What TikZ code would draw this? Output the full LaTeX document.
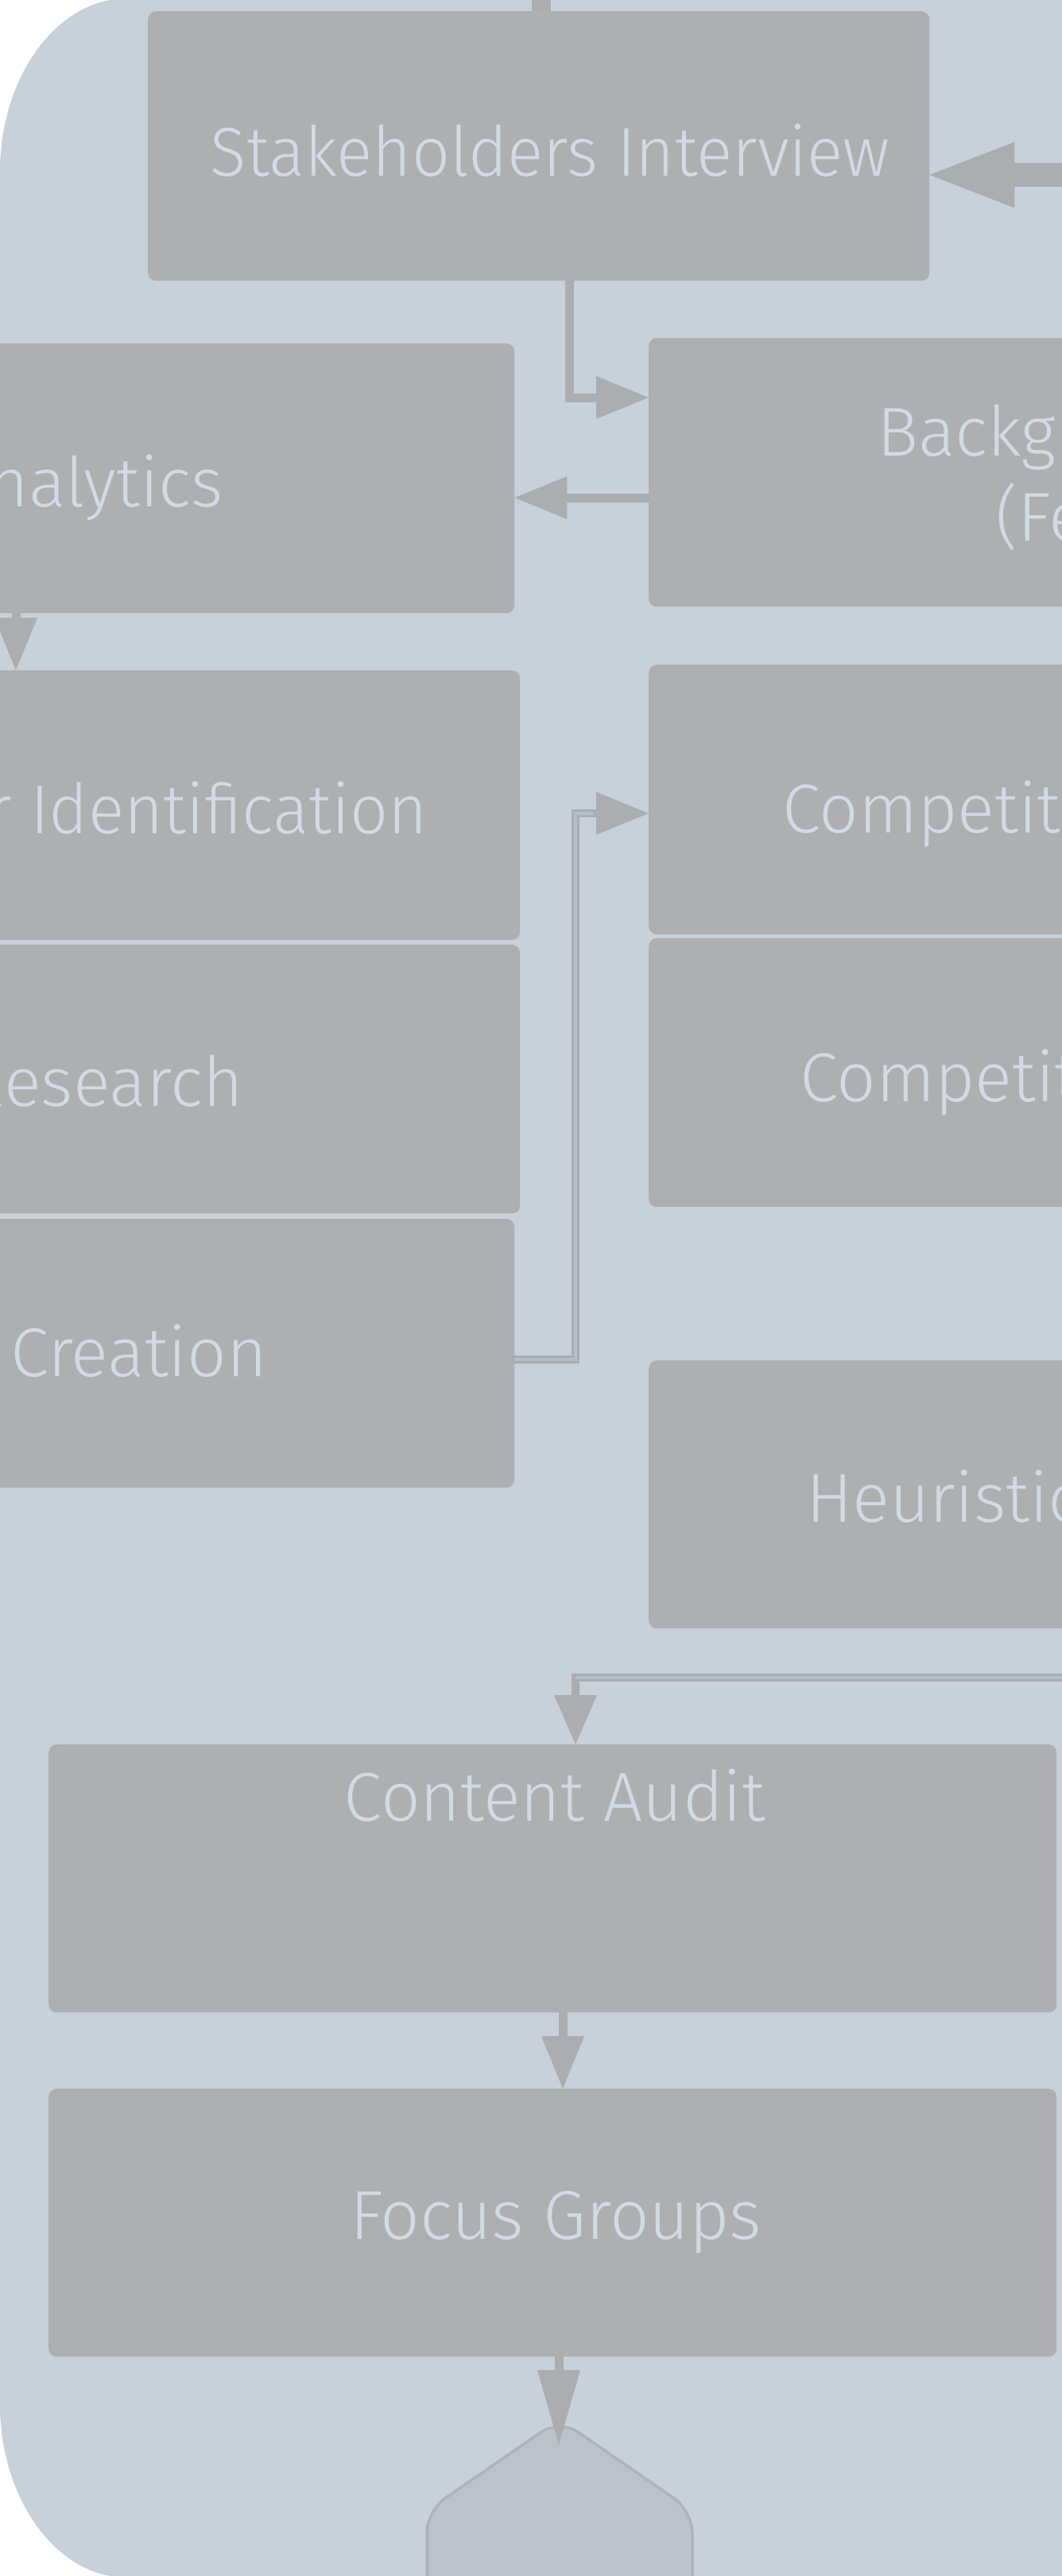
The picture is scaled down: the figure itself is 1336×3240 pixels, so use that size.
\documentclass[tikz,border=0pt]{standalone}
\usepackage{fontspec}
\newfontfamily\boxfont{Fira Sans}[UprightFont={* Light}]
\usetikzlibrary{arrows.meta,calc}
\definecolor{bgblue}{HTML}{C8D0DA}
\definecolor{boxgray}{HTML}{AEAFB1}
\definecolor{txtblue}{HTML}{D2DAE4}
\definecolor{conngray}{HTML}{ABADB0}
\definecolor{stripe}{HTML}{B8BEC5}
\definecolor{pentfill}{HTML}{BBC2CA}
\definecolor{pentline}{HTML}{AEB3B9}
\begin{document}
\begin{tikzpicture}[x=1pt,y=-1pt,
  box/.style={fill=boxgray, rounded corners=10pt, inner sep=0pt, anchor=north west},
  txt/.style={text=txtblue, inner sep=0pt, font=\boxfont\fontsize{87}{104}\selectfont},
  conn/.style={draw=conngray, line width=11pt, -{Triangle[length=66pt,width=54pt,line width=0pt]}},
  lconn/.style={draw=conngray, line width=10pt, -{Triangle[length=62pt,width=54pt,line width=0pt]}},
  stripeline/.style={draw=stripe, line width=4pt}
]
\useasboundingbox (0,0) rectangle (1336,3240);
\clip (0,0) rectangle (1336,3240);
\fill[white] (0,0) rectangle (1336,3240);
\fill[bgblue] (1700,-2) -- (160,-2) .. controls (72,-2) and (0,96) .. (0,216)
  -- (0,3024) .. controls (0,3144) and (72,3242) .. (160,3242) -- (1700,3242) -- cycle;

% pentagon (end shape)
\draw[fill=pentfill, draw=pentline, line width=3.5pt, rounded corners=28pt]
  (537,3320) -- (537,3158) -- (704,3043) -- (871,3158) -- (871,3320);
\coordinate (pt) at (703,3075);

% boxes
\node[box, minimum width=983pt,  minimum height=339pt] (si)  at (186,14) {};
\node[box, minimum width=1000pt, minimum height=338pt] (bg)  at (816,425) {};
\node[box, minimum width=1000pt, minimum height=339pt] (an)  at (-353,432) {};
\node[box, minimum width=1000pt, minimum height=339pt] (ui)  at (-346,843) {};
\node[box, minimum width=1000pt, minimum height=338pt] (re)  at (-346,1188) {};
\node[box, minimum width=1000pt, minimum height=338pt] (cr)  at (-353,1533) {};
\node[box, minimum width=1000pt, minimum height=339pt] (co1) at (816,836) {};
\node[box, minimum width=1000pt, minimum height=338pt] (co2) at (816,1180) {};
\node[box, minimum width=1000pt, minimum height=337pt] (he)  at (816,1711) {};
\node[box, minimum width=1268pt, minimum height=337pt] (ca)  at (61,2194) {};
\node[box, minimum width=1268pt, minimum height=337pt] (fg)  at (61,2627) {};

% connectors
\coordinate (topin) at (681,-40);
\draw[conngray, line width=24pt] (topin) -- (topin |- si.north);
\coordinate (rin) at (1400,220);
\draw[conngray, line width=30pt, -{Triangle[length=107pt,width=83pt,line width=0pt]}] (rin) -- (rin -| si.east);
\coordinate (j1) at (716,500);
\draw[conn] (j1 |- si.south) -- (j1) -- (j1 -| bg.west);
\coordinate (j2) at (0,626);
\draw[conn] (j2 -| bg.west) -- (j2 -| an.east);
\coordinate (j3) at (20,0);
\draw[conn] (j3 |- an.south) -- (j3 |- ui.north);
\coordinate (j4) at (724,1710);
\coordinate (j5) at (724,1023);
\draw[lconn, {Triangle[length=10pt,width=8pt,line width=0pt]}-{Triangle[length=66pt,width=54pt,line width=0pt]}]
  ($(j4 -| cr.east)+(-10,0)$) -- (j4) -- (j5) -- (j5 -| co1.west);
\draw[stripeline] (j4 -| cr.east) -- (j4) -- (j5) -- ($(j5 -| co1.west)+(-70,0)$);
\coordinate (j6) at (1400,2110);
\coordinate (j7) at (724,2110);
\draw[lconn] (j6) -- (j7) -- (j7 |- ca.north);
\draw[stripeline] (j6) -- (j7);
\coordinate (j8) at (708,0);
\draw[conn] (j8 |- ca.south) -- (j8 |- fg.north);
\draw[conn, -{Triangle[length=94pt,width=54pt,line width=0pt]}] (pt |- fg.south) -- (pt);

% texts
\node[txt, anchor=base] (si-t) at (692,221) {\scalebox{0.967}[1]{Stakeholders Interview}};
\node[txt, anchor=base west] (bg-t1) at (1103,573) {Background};
\node[txt, anchor=base west] (bg-t2) at (1252,680) {(Features)};
\node[txt, anchor=base east] (an-t) at (281,637) {Analytics};
\node[txt, anchor=base east] (ui-t) at (538,1048) {\scalebox{0.97}[1]{User Identification}};
\node[txt, anchor=base east] (re-t) at (306,1391) {User Research};
\node[txt, anchor=base east] (cr-t) at (336,1731) {Persona Creation};
\node[txt, anchor=base west] (co1-t) at (984,1047) {Competitive};
\node[txt, anchor=base west] (co2-t) at (1006,1385) {Competitive};
\node[txt, anchor=base west] (he-t) at (1014,1914) {Heuristic};
\node[txt, anchor=base] (ca-t) at (698,2290) {Content Audit};
\node[txt, anchor=base] (fg-t) at (699,2816) {Focus Groups};
\end{tikzpicture}
\end{document}
